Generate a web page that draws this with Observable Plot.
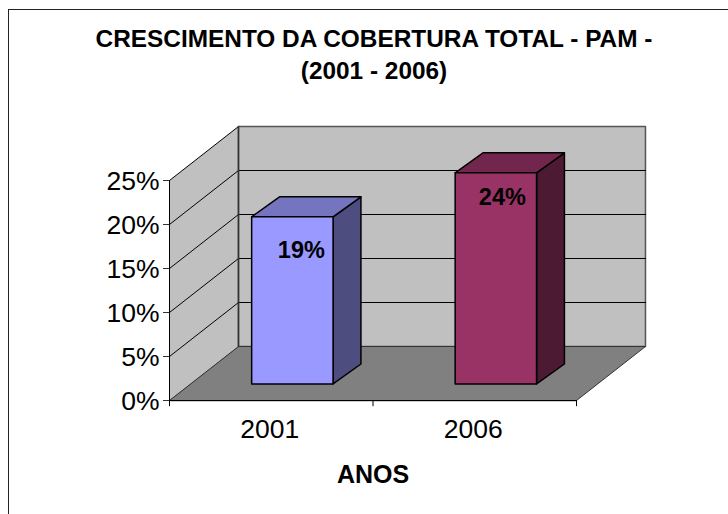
<!DOCTYPE html>
<html><head><meta charset="utf-8">
<script src="https://cdn.jsdelivr.net/npm/d3@7"></script>
<script src="https://cdn.jsdelivr.net/npm/@observablehq/plot@0.6"></script>
<style>
html,body{margin:0;padding:0;background:#fff;}
#chart{position:relative;width:728px;height:514px;overflow:hidden;font-family:"Liberation Sans",Arial,sans-serif;color:#000;}
#chart svg{position:absolute;left:0;top:0;}
#frame{position:absolute;left:8px;top:9px;width:730px;height:520px;border-left:1.5px solid #222;border-top:1.5px solid #222;}
.t{position:absolute;font-weight:bold;white-space:nowrap;transform:translate(-50%,-50%);}
</style></head><body><div id="chart"><div id="frame"></div></div>
<script>
const categories = ["2001", "2006"];
const values = [19, 24];
const yTicks = [0, 5, 10, 15, 20, 25];
const titleLines = ["CRESCIMENTO DA COBERTURA TOTAL - PAM -", "(2001 - 2006)"];
const xTitle = "ANOS";

// oblique projection, in data units
const slots = categories.length;
const depthX = 0.339, depthY = 6.136;
const barHalf = 0.2, barNear = 0.306, barFar = 0.676, barFarX = 0.71;
const P = (u, v, d, dx = d) => ({x: u + dx * depthX, y: v + d * depthY});
const poly = (pts, fill, stroke, sw) => Plot.line(pts, {x: "x", y: "y", curve: "linear-closed", fill, stroke, strokeWidth: sw});
const open = (pts, stroke, sw) => Plot.line(pts, {x: "x", y: "y", stroke, strokeWidth: sw, fill: "none"});
const yMax = d3.max(yTicks);
const marks = [];
marks.push(poly([P(0,0,0),P(0,yMax,0),P(0,yMax,1),P(0,0,1)], "#c0c0c0", "#000", 1));
marks.push(poly([P(0,0,1),P(0,yMax,1),P(slots,yMax,1),P(slots,0,1)], "#c0c0c0", "#555", 1.5));
marks.push(poly([P(0,0,0),P(0,0,1),P(slots,0,1),P(slots,0,0)], "#808080", "#333", 1));
for (const t of yTicks.slice(1, -1)) marks.push(open([P(0,t,0),P(0,t,1),P(slots,t,1)], "#000", 1));
marks.push(open([P(0,0,1),P(0,yMax,1)], "#333", 1.5));
const barColors = [["#9999ff","#7575bf","#4d4d80"],["#993366","#73264d","#4d1a33"]];
categories.forEach((c, i) => {
  const a = i + 0.5 - barHalf, b = i + 0.5 + barHalf, v = values[i];
  const [front, top, side] = barColors[i];
  marks.push(poly([P(b,0,barNear),P(b,v,barNear),P(b,v,barFar,barFarX),P(b,0,barFar,barFarX)], side, "#000", 1.5));
  marks.push(poly([P(a,v,barNear),P(a,v,barFar,barFarX),P(b,v,barFar,barFarX),P(b,v,barNear)], top, "#000", 1.5));
  marks.push(poly([P(a,0,barNear),P(a,v,barNear),P(b,v,barNear),P(b,0,barNear)], front, "#000", 1.5));
});
const labelDx = [9, 6.5], labelDy = [34, 25];
categories.forEach((c, i) => {
  const p = P(i + 0.5, values[i], barNear);
  marks.push(Plot.text([values[i] + "%"], {x: () => p.x, y: () => p.y, dx: labelDx[i], dy: labelDy[i], fontSize: 23.5, fontWeight: "bold", fill: "#000"}));
});
marks.push(Plot.ruleY([0], {x1: 0, x2: slots, stroke: "#000", strokeWidth: 1}));
marks.push(Plot.ruleX([0], {y1: 0, y2: yMax, stroke: "#000", strokeWidth: 1}));
marks.push(Plot.axisY({ticks: yTicks, tickFormat: () => "", tickSize: 6, label: null, stroke: "#333"}));
marks.push(Plot.axisY({ticks: yTicks, tickFormat: d => d + "%", tickSize: 0, tickPadding: 10, dy: 1, fontSize: 26.5, label: null, fill: "#000"}));
marks.push(Plot.ruleX(d3.range(slots + 1), {y1: 0, y2: -0.7, stroke: "#000"}));
marks.push(Plot.text(categories, {x: (d, i) => i + 0.5, y: 0, dx: -1.5, dy: 29, fontSize: 26.5, fill: "#000"}));

const plot = Plot.plot({
  width: 728, height: 514,
  marginLeft: 169, marginRight: 83, marginTop: 126, marginBottom: 114,
  x: {type: "linear", domain: [0, slots], range: [169, 576], axis: null},
  y: {type: "linear", domain: [0, yMax], range: [400, 180]},
  style: {background: "transparent", fontFamily: '"Liberation Sans",Arial,sans-serif', overflow: "visible"},
  marks
});
const host = document.getElementById("chart");
host.appendChild(plot);
const addText = (s, x, y, size) => {
  const e = document.createElement("div");
  e.className = "t"; e.textContent = s;
  e.style.left = x + "px"; e.style.top = y + "px"; e.style.fontSize = size + "px";
  host.appendChild(e);
};
addText(titleLines[0], 374, 38.5, 24.4);
addText(titleLines[1], 374, 71, 24.4);
addText(xTitle, 373, 474, 25);
</script></body></html>
